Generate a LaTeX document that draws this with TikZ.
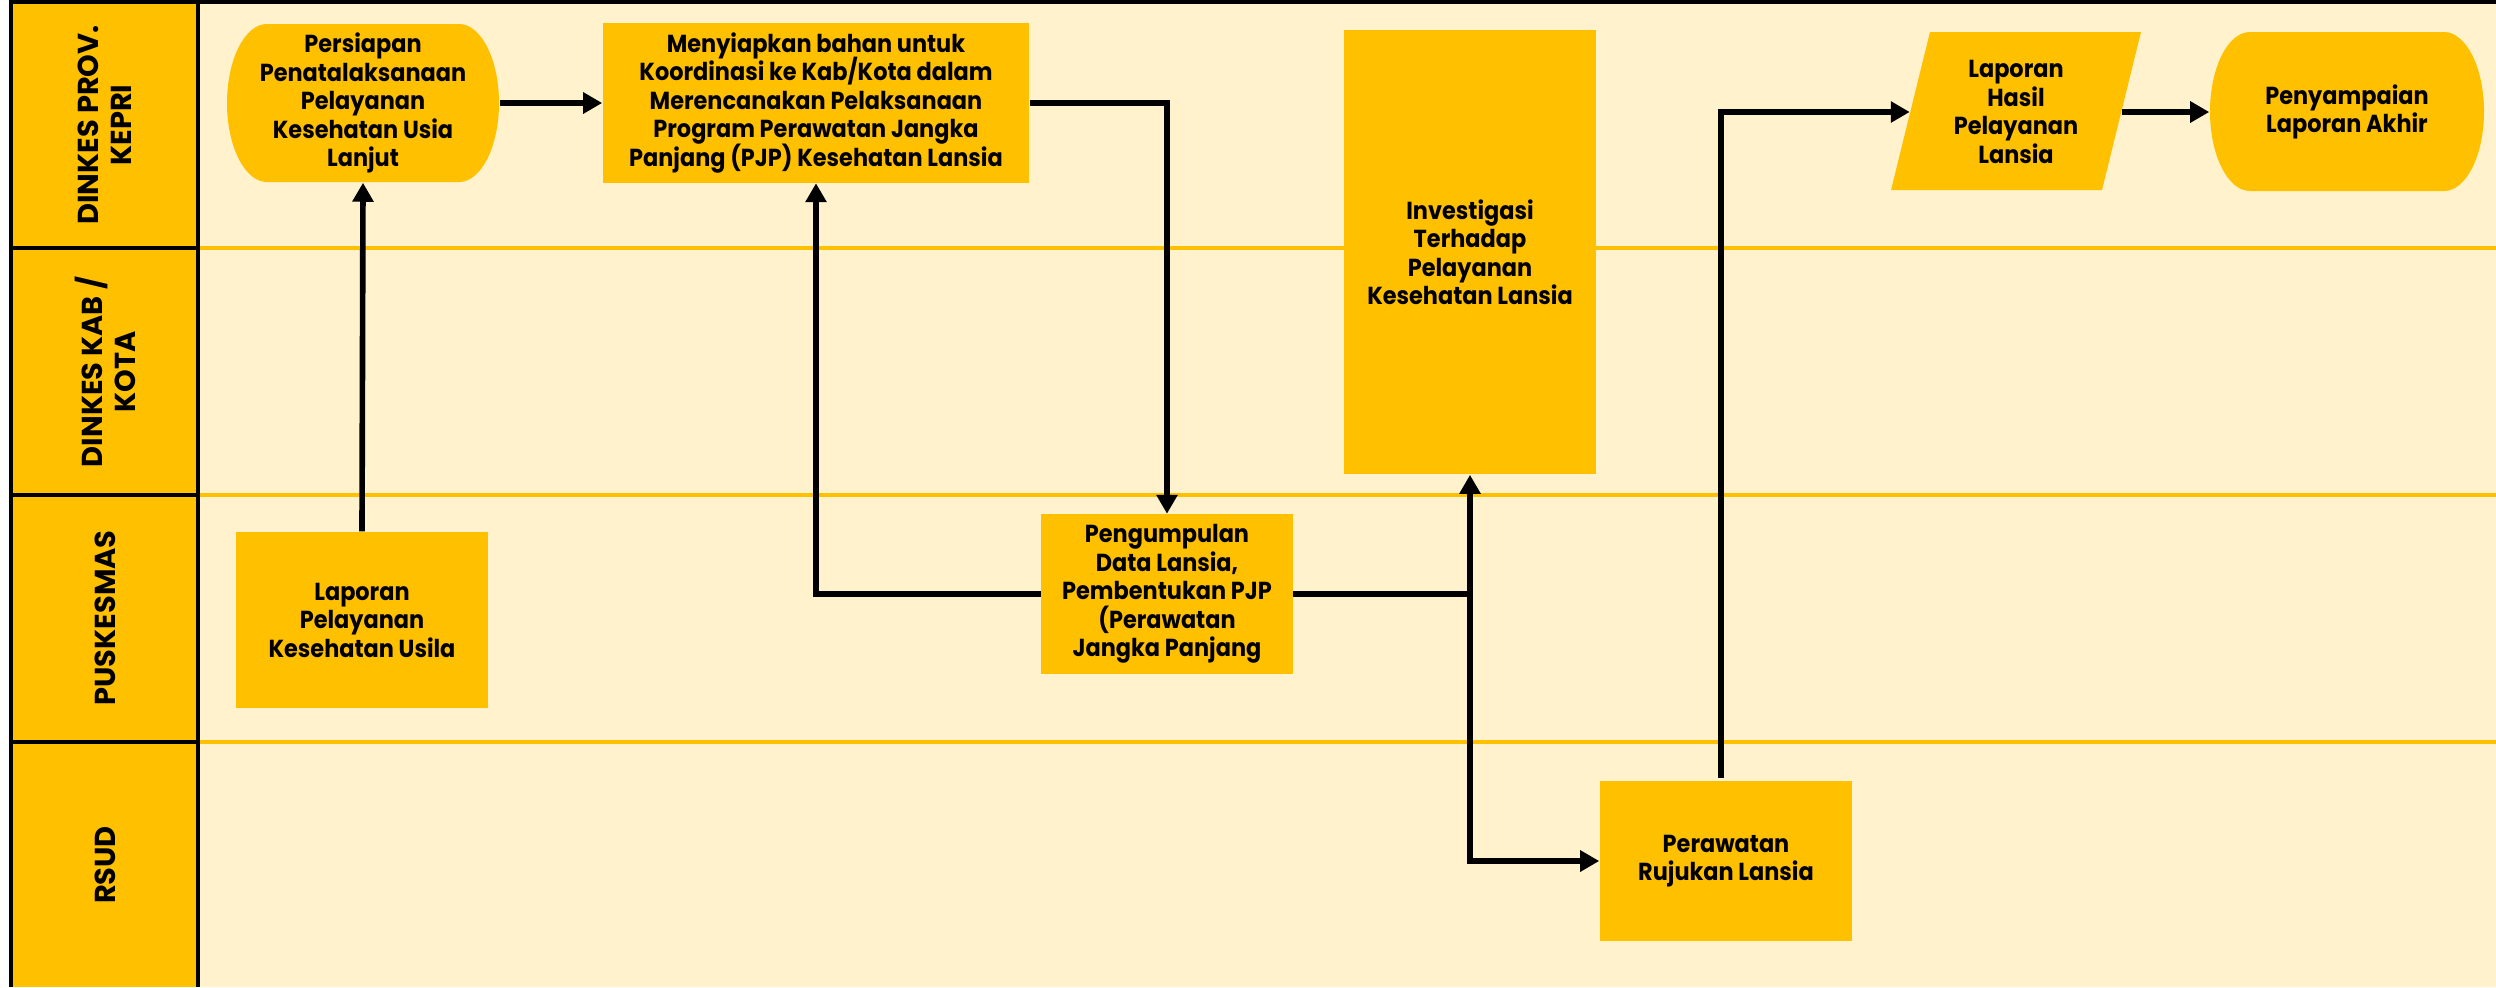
\documentclass[tikz,border=0pt]{standalone}
\usepackage{fontspec}
\setmainfont{Poppins}
\newfontfamily\isifont{Poppins}[FakeStretch=0.91]
\usetikzlibrary{arrows.meta,positioning,calc}
\definecolor{emas}{HTML}{FFC000}
\definecolor{krem}{HTML}{FFF2CC}
\newcommand\rapat{\lineskiplimit=-10pt\relax}

\begin{document}
\begin{tikzpicture}[x=0.01cm,y=-0.01cm,
    alur/.style={draw=black,line width=1.6pt,-{Triangle[length=5.4pt,width=5.8pt]}},
    kotak/.style={rectangle,fill=emas,align=center,inner sep=1pt,font=\isifont\bfseries\fontsize{7}{8.1}\selectfont\rapat},
    teks/.style={rectangle,align=center,inner sep=1pt,font=\isifont\bfseries\fontsize{7}{8.1}\selectfont\rapat},
    jalur/.style={rotate=90,align=center,font=\bfseries\fontsize{8.2}{9.4}\selectfont\rapat}]
    %Ukuran - lebar header dan garis batas lajur%
    %===========================================================
    \def \Kiri {11}; %tepi kiri header
    \def \Header {198}; %tepi kanan header
    \def \Lebar {2496};
    \def \Tinggi {987};
    \useasboundingbox (0,0) rectangle (\Lebar,\Tinggi);
    \fill[white] (0,0) rectangle (\Lebar,\Tinggi);
    \fill[krem] (\Header,2) rectangle (\Lebar,\Tinggi); %latar lajur
    \fill[emas] (\Kiri,2) rectangle (\Header,\Tinggi); %kolom header
    \foreach \y in {248,495,742} {
        \draw[emas,line width=0.9pt] (\Header,\y) -- (\Lebar,\y);
        \draw[black,line width=0.9pt] (\Kiri,\y) -- (\Header,\y);
    }
    \draw[black,line width=1pt] (\Kiri,\Tinggi) -- (\Kiri,2) -- (\Lebar,2);
    \draw[black,line width=0.9pt] (\Header,2) -- (\Header,\Tinggi);
    %Nama lajur%
    %===========================================================
    \node[jalur] (lajurprov) at (105,125) {DINKES PROV.\\KEPRI};
    \node[jalur] (lajurkab) at (105,372) {DINKES KAB /\\KOTA};
    \node[jalur] (lajurpkm) at (105,618) {PUSKESMAS};
    \node[jalur] (lajurrsud) at (105,865) {RSUD};
    %Bentuk terminal dan data (digambar langsung)%
    %===========================================================
    \fill[emas] (267,24) -- (459,24) arc[start angle=-90,end angle=90,x radius=40,y radius=79]
        -- (267,182) arc[start angle=90,end angle=270,x radius=40,y radius=79] -- cycle; %Persiapan
    \fill[emas] (2250,32) -- (2444,32) arc[start angle=-90,end angle=90,x radius=40,y radius=79.5]
        -- (2250,191) arc[start angle=90,end angle=270,x radius=40,y radius=79.5] -- cycle; %Penyampaian
    \fill[emas] (1930,32) -- (2141,32) -- (2102,190) -- (1891,190) -- cycle; %Laporan hasil
    %Langkah-langkah%
    %===========================================================
    \node[teks,minimum width=2.72cm,minimum height=1.58cm] (persiapan) at (363,103) {Persiapan\\Penatalaksanaan\\Pelayanan\\Kesehatan Usia\\Lanjut};
    \node[kotak,minimum width=4.26cm,minimum height=1.59cm] (menyiapkan) at (816,103) {Menyiapkan bahan untuk\\Koordinasi ke Kab/Kota dalam\\Merencanakan Pelaksanaan\\Program Perawatan Jangka\\Panjang (PJP) Kesehatan Lansia};
    \node[kotak,minimum width=2.51cm,minimum height=4.44cm] (investigasi) at (1470,252) {Investigasi\\Terhadap\\Pelayanan\\Kesehatan Lansia};
    \node[teks,minimum width=2.11cm,minimum height=1.58cm] (laporanhasil) at (2016,112) {Laporan\\Hasil\\Pelayanan\\Lansia};
    \node[teks,minimum width=2.74cm,minimum height=1.59cm] (penyampaian) at (2347,112) {Penyampaian\\Laporan Akhir};
    \node[kotak,minimum width=2.52cm,minimum height=1.76cm] (laporanusila) at (362,620) {Laporan\\Pelayanan\\Kesehatan Usila};
    \node[kotak,minimum width=2.51cm,minimum height=1.59cm] (pengumpulan) at (1167,594) {Pengumpulan\\Data Lansia,\\Pembentukan PJP\\(Perawatan\\Jangka Panjang};
    \node[kotak,minimum width=2.52cm,minimum height=1.59cm] (perawatan) at (1726,861) {Perawatan\\Rujukan Lansia};
    \coordinate (simpang) at (investigasi.south |- pengumpulan.east); %titik cabang
    %Alur%
    %===========================================================
    \draw[alur] (laporanusila.north) -- (persiapan.south);
    \draw[alur,line width=1.9pt] (persiapan.east) -- (menyiapkan.west);
    \draw[alur] (menyiapkan.east) -| (pengumpulan.north);
    \draw[alur] (pengumpulan.west) -| (menyiapkan.south);
    \draw[alur] (pengumpulan.east) -- (simpang) -- (investigasi.south);
    \draw[alur] (simpang) |- (perawatan.west);
    \draw[alur] ([xshift=-0.05cm,yshift=0.03cm]perawatan.north) |- (laporanhasil.west);
    \draw[alur] (laporanhasil.east) -- (penyampaian.west);
\end{tikzpicture}
\end{document}
